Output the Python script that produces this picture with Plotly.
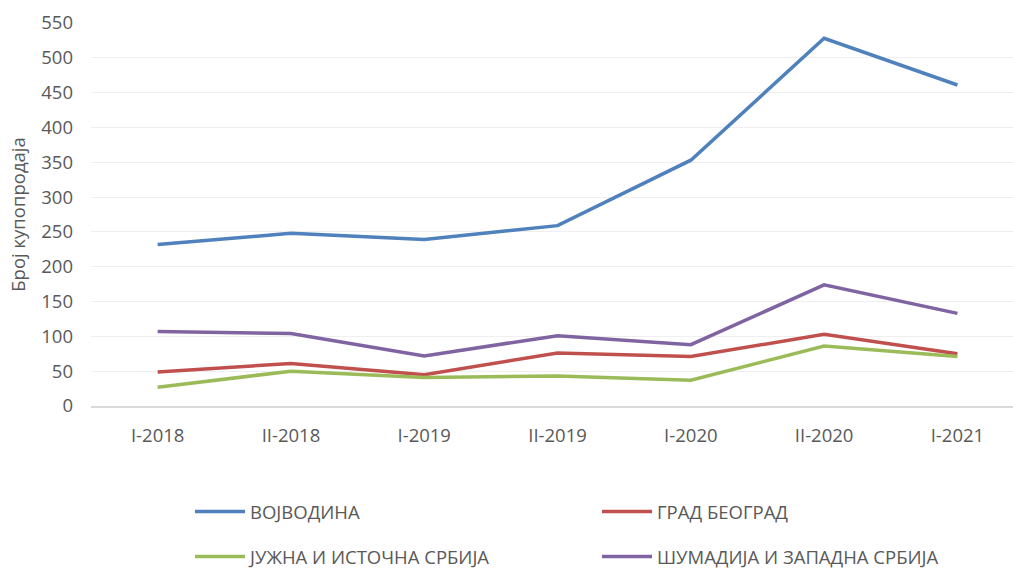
import plotly.graph_objects as go

categories = ["I-2018", "II-2018", "I-2019", "II-2019", "I-2020", "II-2020", "I-2021"]
vojvodina = [232, 248, 239, 259, 353, 528, 461]
beograd = [49, 61, 45, 76, 71, 103, 75]
juzna = [27, 50, 41, 43, 37, 86, 71]
sumadija = [107, 104, 72, 101, 88, 174, 133]

names = ["ВОЈВОДИНА", "ГРАД БЕОГРАД", "ЈУЖНА И ИСТОЧНА СРБИЈА", "ШУМАДИЈА И ЗАПАДНА СРБИЈА"]
colors = ["#4F81BD", "#C0504D", "#9BBB59", "#8064A2"]
series = [vojvodina, beograd, juzna, sumadija]
legends = ["legend", "legend2", "legend3", "legend4"]
# legend anchor positions in container pixels (left x, middle y)
legend_pos = [(190, 512), (597, 512), (190, 557), (597, 557)]

FONT = "Open Sans"
GRAY = "#595959"
FS = 18.5

fig = go.Figure()
for name, vals, col, lg in zip(names, series, colors, legends):
    fig.add_trace(go.Scatter(
        x=categories, y=vals, mode="lines", name=name,
        line=dict(color=col, width=3.5), legend=lg,
    ))

W, H = 1013, 568
legend_layout = {}
for lg, (px, py) in zip(legends, legend_pos):
    legend_layout[lg] = dict(
        orientation="h", xref="container", yref="container",
        x=px / W, y=1 - py / H, xanchor="left", yanchor="middle",
        font=dict(family=FONT, size=FS, color=GRAY),
        itemwidth=50, bgcolor="rgba(0,0,0,0)",
    )

fig.update_layout(
    width=W, height=H,
    margin=dict(l=91, r=0, t=23, b=162, autoexpand=False),
    paper_bgcolor="white", plot_bgcolor="white",
    font=dict(family=FONT, size=FS, color=GRAY),
    showlegend=True,
    xaxis=dict(
        type="category", range=[-0.5, 6.417],
        showgrid=False, showline=True, linecolor="#D9D9D9", linewidth=2,
        ticks="", ticklabelstandoff=12,
        tickfont=dict(family=FONT, size=FS, color=GRAY),
        zeroline=False,
    ),
    yaxis=dict(
        range=[0, 550], tickvals=list(range(0, 551, 50)),
        showgrid=True, gridcolor="#EFEFEF", gridwidth=1,
        zeroline=False, showline=False, ticks="",
        ticklabelstandoff=17,
        tickfont=dict(family=FONT, size=FS, color=GRAY),
        title=dict(text="Број купопродаја", font=dict(family=FONT, size=FS, color=GRAY), standoff=10),
    ),
    **legend_layout,
)

fig.write_html(
    "out.html",
    config={"displayModeBar": False},
    post_script="document.body.style.margin='0';document.body.style.overflow='hidden';",
)
